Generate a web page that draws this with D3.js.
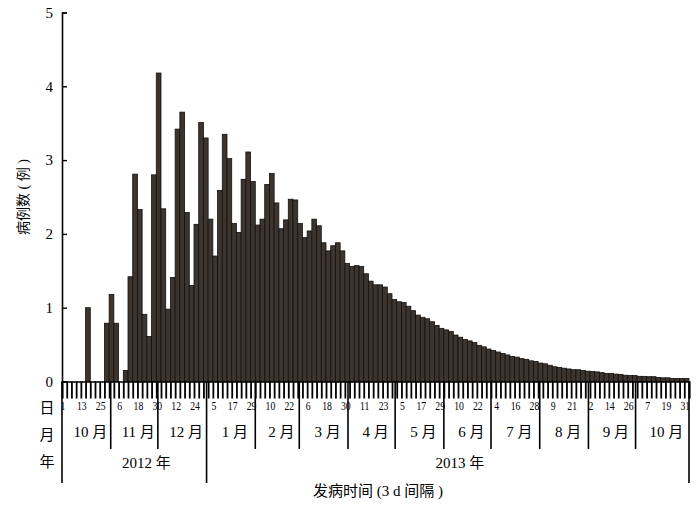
<!DOCTYPE html>
<html><head><meta charset="utf-8">
<script src="https://cdn.jsdelivr.net/npm/d3@7"></script>
<style>body{margin:0;background:#fff}svg{display:block}</style></head>
<body><svg id="c" width="700" height="511"></svg>
<script>
// cases per 3-day interval, starting 2012-10-01
const cases = [0,0,0,0,0,1.0,0,0,0,0.79,1.18,0.79,0,0.15,1.42,2.81,2.33,0.91,0.61,2.80,
4.18,2.34,0.98,1.41,3.42,3.65,2.29,1.30,2.13,3.51,3.30,2.20,1.70,2.59,3.35,3.02,2.14,2.02,2.74,3.11,
2.71,2.12,2.20,2.67,2.82,2.42,2.07,2.19,2.47,2.46,2.14,1.95,2.04,2.20,2.11,1.88,1.77,1.84,1.88,1.77,
1.60,1.56,1.57,1.56,1.46,1.36,1.31,1.31,1.28,1.19,1.11,1.08,1.07,1.02,0.96,0.90,0.87,0.85,0.81,0.76,
0.72,0.70,0.68,0.63,0.60,0.57,0.55,0.53,0.49,0.47,0.44,0.42,0.40,0.38,0.36,0.34,0.33,0.31,0.30,0.28,
0.27,0.25,0.24,0.22,0.20,0.19,0.18,0.17,0.16,0.16,0.15,0.14,0.135,0.13,0.12,0.11,0.11,0.10,0.095,0.085,
0.08,0.08,0.07,0.07,0.065,0.065,0.055,0.05,0.05,0.04,0.04,0.04,0.04];
const dayLabels = ["1","13","25","6","18","30","12","24","5","17","29","10","22","6","18","30","11","23",
"5","17","29","10","22","4","16","28","9","21","2","14","26","7","19","31"];
const monthLabels = ["10 月","11 月","12 月","1 月","2 月","3 月","4 月","5 月","6 月","7 月","8 月","9 月","10 月"];
const monthStartDays = [0,31,61,92,123,151,182,212,243,273,304,335,365];
const yearLabels = ["2012 年","2013 年"];
const yearStartDays = [0,92];
const yTicks = [0,1,2,3,4,5];
const rowLabels = ["日","月","年"];
const yTitle = "病例数 ( 例 )";
const xTitle = "发病时间 (3  d 间隔 )";

const svg = d3.select("#c");
const L = 62, R = 689, T = 12.5, B = 381.5;
const N = cases.length;
const serif = "'Liberation Serif','Noto Sans CJK SC',serif";
const x = d3.scaleBand().domain(d3.range(N)).range([L, R]).padding(0);
const xl = d3.scaleLinear().domain([0, N]).range([L, R]);
const y = d3.scaleLinear().domain([0, 5]).range([B, T]);
const dayX = d => xl(d / 3);

// bars
svg.append("g").selectAll("rect").data(cases).join("rect")
  .attr("x", (d,i) => x(i)).attr("width", x.bandwidth())
  .attr("y", d => y(d)).attr("height", d => B - y(d))
  .attr("fill", "#3e342e").attr("stroke", "#111").attr("stroke-width", 0.8);

// y axis
const ya = svg.append("g").attr("transform", `translate(${L},0)`)
  .call(d3.axisLeft(y).tickValues(yTicks).tickSize(-5).tickPadding(9).tickFormat(d3.format("d")));
ya.select(".domain").attr("stroke", "#000").attr("stroke-width", 1.6);
ya.selectAll(".tick line").attr("stroke", "#000").attr("stroke-width", 1.4);
ya.selectAll("text").attr("font-family", serif).attr("font-size", 15).attr("fill", "#000");

// day labels (drawn under the ticks, as in the reference)
svg.append("g").selectAll("text").data(dayLabels).join("text")
  .attr("transform", (d,i) => `translate(${xl(i*4) + 1},410) scale(0.72,1)`)
  .attr("text-anchor", "middle").attr("font-family", serif).attr("font-size", 13.5)
  .attr("fill", "#000").text(d => d);

// x axis with tick at every bar boundary
const xa = svg.append("g").attr("transform", `translate(0,${B})`)
  .call(d3.axisBottom(xl).tickValues(d3.range(N + 1)).tickSize(17).tickFormat(""));
xa.select(".domain").attr("stroke", "#000").attr("stroke-width", 1.6);
xa.selectAll(".tick line").attr("stroke", "#000").attr("stroke-width", 1.8);

// month dividers
const g = svg.append("g").attr("stroke", "#000").attr("stroke-width", 1.6);
monthStartDays.slice(1).forEach(d => {
  const isYear = yearStartDays.includes(d);
  g.append("line").attr("x1", dayX(d)).attr("x2", dayX(d))
    .attr("y1", B).attr("y2", isYear ? 483 : 449);
});
g.append("line").attr("x1", L).attr("x2", L).attr("y1", B).attr("y2", 483);
g.append("line").attr("x1", R).attr("x2", R).attr("y1", B).attr("y2", 483);

// month labels
const mEnds = monthStartDays.slice(1).map(dayX).concat([R]);
svg.append("g").selectAll("text").data(monthLabels).join("text")
  .attr("x", (d,i) => (dayX(monthStartDays[i]) + mEnds[i]) / 2 + 4)
  .attr("y", 437).attr("text-anchor", "middle")
  .attr("font-family", serif).attr("font-size", 15).attr("fill", "#000").text(d => d);

// year labels
const yEnds = [dayX(yearStartDays[1]), R];
svg.append("g").selectAll("text").data(yearLabels).join("text")
  .attr("x", (d,i) => (dayX(yearStartDays[i]) + yEnds[i]) / 2 + 12)
  .attr("y", 468).attr("text-anchor", "middle")
  .attr("font-family", serif).attr("font-size", 15).attr("fill", "#000").text(d => d);

// row labels
svg.append("g").selectAll("text").data(rowLabels).join("text")
  .attr("x", 47).attr("y", (d,i) => 413 + i * 27).attr("text-anchor", "middle")
  .attr("font-family", serif).attr("font-size", 15).attr("fill", "#000").text(d => d);

// titles
svg.append("text").attr("transform", "translate(28,197) rotate(-90)")
  .attr("text-anchor", "middle").attr("font-family", serif).attr("font-size", 14)
  .attr("fill", "#000").text(yTitle);
svg.append("text").attr("x", 378).attr("y", 496).attr("text-anchor", "middle")
  .attr("font-family", serif).attr("font-size", 15).attr("fill", "#000").text(xTitle);
</script></body></html>
